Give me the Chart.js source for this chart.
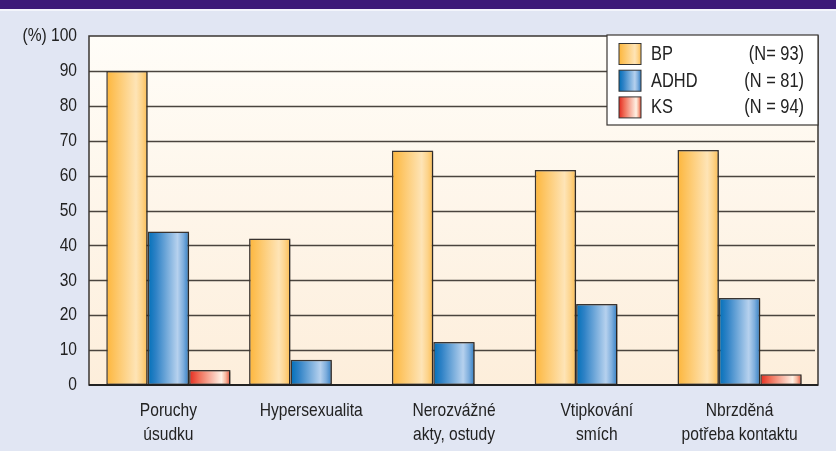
<!DOCTYPE html>
<html>
<head>
<meta charset="utf-8">
<script src="https://cdn.jsdelivr.net/npm/chart.js@4.4.0/dist/chart.umd.min.js"></script>
<style>
  html, body { margin: 0; padding: 0; background: #e1e6f3; }
  #wrap { position: relative; width: 836px; height: 451px; }
  #pruh { position: absolute; left: 0; top: 0; width: 836px; height: 9px; background: #3c1a78; border-bottom: 2px solid #f3f5fb; }
  #graf { position: absolute; left: 0; top: 0; }
</style>
</head>
<body>
<div id="wrap">
  <div id="pruh"></div>
  <canvas id="graf" width="836" height="451"></canvas>
</div>
<script>
// data
const kategorie = [["Poruchy", "úsudku"], "Hypersexualita", ["Nerozvážné", "akty, ostudy"], ["Vtipkování", "smích"], ["Nbrzděná", "potřeba kontaktu"]];
const skupiny = ["BP", "ADHD", "KS"];
const pocty = ["(N= 93)", "(N = 81)", "(N = 94)"];
const hodnotyBP = [90, 42, 67.2, 61.6, 67.3];
const hodnotyADHD = [44, 7.2, 12.3, 23.2, 24.9];
const hodnotyKS = [4.3, 0, 0, 0, 3.1];
const osaY = { min: 0, max: 100, krok: 10 };

// úzké písmo: Liberation Sans stažené vodorovně (jako Arial Narrow)
const pismo = "'Liberation Sans', Arial, sans-serif";
const zuzeni = 0.82;

// barevné přechody sloupců (zleva doprava)
const prechody = [
  [[0, "#fdb63c"], [0.2, "#fdc35e"], [0.72, "#fee4b6"], [0.86, "#fdd48c"], [1, "#fcbd52"]],
  [[0, "#0070b9"], [0.2, "#2f82c6"], [0.72, "#b6d1ee"], [0.86, "#7eaedd"], [1, "#2f7cc2"]],
  [[0, "#e42a1f"], [0.25, "#f0705a"], [0.78, "#fff1e4"], [0.88, "#f7b9a0"], [1, "#e2503a"]]
];
const plneBarvy = ["#fdc35e", "#3a86c8", "#ef6a55"];

function prechod(ctx, x0, x1, i) {
  const g = ctx.createLinearGradient(x0, 0, x1, 0);
  prechody[i].forEach(([o, c]) => g.addColorStop(o, c));
  return g;
}

function text(ctx, t, x, y, align, size) {
  ctx.save();
  ctx.font = size + "px " + pismo;
  ctx.textAlign = align;
  ctx.textBaseline = "middle";
  ctx.translate(x, y);
  ctx.scale(zuzeni, 1);
  ctx.fillText(t, 0, 0);
  ctx.restore();
}

function ramec(chart) {
  const a = chart.chartArea;
  return { l: a.left - 8, r: a.right + 7, t: a.top, b: a.bottom };
}

const pozadiGrafu = {
  id: "pozadiGrafu",
  beforeDatasetsDraw(chart) {
    const ctx = chart.ctx;
    const f = ramec(chart);
    const y = chart.scales.y;
    ctx.save();
    const g = ctx.createLinearGradient(0, f.t, 0, f.b);
    g.addColorStop(0, "#fffdf8");
    g.addColorStop(1, "#fdeedb");
    ctx.fillStyle = g;
    ctx.fillRect(f.l, f.t, f.r - f.l, f.b - f.t);
    // mřížka
    ctx.strokeStyle = "#4a443e";
    ctx.lineWidth = 1.3;
    y.ticks.forEach(t => {
      if (t.value === osaY.min || t.value === osaY.max) return;
      const py = Math.round(y.getPixelForValue(t.value)) + 0.5;
      ctx.beginPath();
      ctx.moveTo(f.l, py);
      ctx.lineTo(f.r - 3, py);
      ctx.stroke();
    });
    ctx.restore();

    // přechody do sloupců
    chart.data.datasets.forEach((ds, i) => {
      const meta = chart.getDatasetMeta(i);
      meta.data.forEach(el => {
        el.options.backgroundColor = prechod(ctx, el.x - el.width / 2, el.x + el.width / 2, i);
      });
    });
    ctx.save();
    ctx.shadowColor = "rgba(0,0,0,0.35)";
    ctx.shadowOffsetX = 1.5;
    ctx.shadowOffsetY = 1;
    ctx.shadowBlur = 2;
  },
  afterDatasetsDraw(chart) {
    const ctx = chart.ctx;
    ctx.restore();
    const f = ramec(chart);
    ctx.save();
    ctx.strokeStyle = "#3a3632";
    ctx.lineWidth = 1.5;
    ctx.strokeRect(f.l, f.t, f.r - f.l, f.b - f.t);
    ctx.lineWidth = 2;
    ctx.strokeStyle = "#222";
    ctx.beginPath();
    ctx.moveTo(f.l, f.b);
    ctx.lineTo(f.r, f.b);
    ctx.stroke();
    ctx.restore();
  },
  afterDraw(chart) {
    const ctx = chart.ctx;
    const f = ramec(chart);
    ctx.fillStyle = "#222";

    // popisky osy Y
    const y = chart.scales.y;
    y.ticks.forEach(t => {
      const lab = t.value === osaY.max ? "(%) " + t.value : String(t.value);
      text(ctx, lab, f.l - 12, y.getPixelForValue(t.value), "right", 19);
    });

    // popisky osy X (víceřádkové)
    const x = chart.scales.x;
    x.ticks.forEach((t, i) => {
      const lab = kategorie[i];
      const radky = Array.isArray(lab) ? lab : [lab];
      const px = x.getPixelForTick(i);
      radky.forEach((r, j) => text(ctx, r, px, f.b + 26 + j * 24, "center", 19));
    });

    // legenda
    const w = 211, h = 90;
    const bx = f.r - w, by = f.t - 1;
    ctx.save();
    ctx.fillStyle = "#ffffff";
    ctx.fillRect(bx, by, w, h);
    ctx.strokeStyle = "#3a3632";
    ctx.lineWidth = 1.2;
    ctx.strokeRect(bx, by, w, h);
    skupiny.forEach((s, i) => {
      const sy = by + 8.5 + i * 26.7;
      const sx = bx + 12;
      ctx.fillStyle = prechod(ctx, sx, sx + 22, i);
      ctx.fillRect(sx, sy, 22, 21);
      ctx.strokeStyle = "#333";
      ctx.lineWidth = 1;
      ctx.strokeRect(sx, sy, 22, 21);
      ctx.fillStyle = "#222";
      text(ctx, s, bx + 44, sy + 11, "left", 20);
      text(ctx, pocty[i], bx + w - 14, sy + 11, "right", 20);
    });
    ctx.restore();
  }
};

const hodnoty = [hodnotyBP, hodnotyADHD, hodnotyKS];

new Chart(document.getElementById("graf"), {
  type: "bar",
  data: {
    labels: kategorie,
    datasets: skupiny.map((s, i) => ({
      label: s,
      data: hodnoty[i],
      backgroundColor: (c) => plneBarvy[c.datasetIndex],
      borderColor: "#3a3430",
      borderWidth: 1.5,
      borderSkipped: false,
      barPercentage: 1,
      categoryPercentage: 0.87
    }))
  },
  options: {
    responsive: false,
    animation: false,
    layout: { padding: { left: 0, top: 36, right: 25, bottom: 0 } },
    plugins: { legend: { display: false }, tooltip: { enabled: false } },
    scales: {
      x: {
        grid: { display: false, drawTicks: false },
        border: { display: false },
        ticks: { display: false, autoSkip: false },
        afterFit(s) { s.height = 66; }
      },
      y: {
        min: osaY.min,
        max: osaY.max,
        grid: { display: false, drawTicks: false },
        border: { display: false },
        ticks: { display: false, stepSize: osaY.krok },
        afterFit(s) { s.width = 97; }
      }
    }
  },
  plugins: [pozadiGrafu]
});
</script>
</body>
</html>
